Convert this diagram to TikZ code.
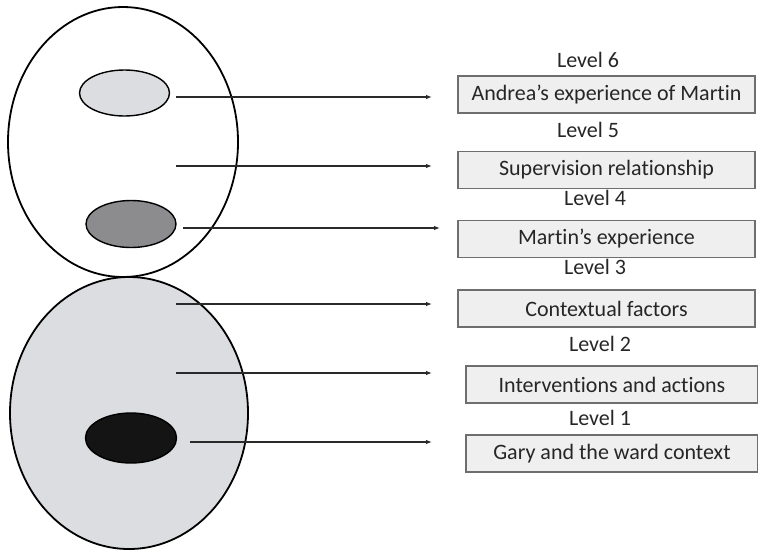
\documentclass[tikz,border=0pt]{standalone}
\usepackage{fontspec}
\setmainfont[Ligatures=CommonOff]{Carlito}
\usetikzlibrary{shapes.geometric,arrows.meta}
\definecolor{boxfill}{HTML}{EFEFEF}
\definecolor{boxline}{HTML}{6E6E6E}
\definecolor{egglight}{HTML}{DCDDE0}
\definecolor{eggdark}{HTML}{8C8C8E}
\definecolor{arrowcol}{HTML}{2A2A2A}
\begin{document}
\begin{tikzpicture}[x=1pt,y=-1pt,
  egg/.style={ellipse,draw=black,line width=1.8pt,inner sep=0pt},
  levelbox/.style={rectangle,draw=boxline,fill=boxfill,line width=1.3pt,minimum height=37pt,inner sep=0pt,font=\fontsize{22}{25}\selectfont,text=black!85},
  levellabel/.style={font=\fontsize{22}{25}\selectfont,text=black!85,inner sep=0pt},
  pointer/.style={draw=arrowcol,line width=1.1pt,-{Latex[length=6pt,width=4.5pt]}}
]
\useasboundingbox (0,0) rectangle (758,555);
% big eggs
\node[egg,fill=white,minimum width=230pt,minimum height=270pt] (top) at (123,142) {};
\node[egg,fill=egglight,minimum width=238pt,minimum height=272pt] (bottom) at (129,413) {};
% inner ellipses
\node[egg,fill=egglight,line width=1.4pt,minimum width=90pt,minimum height=46pt] (andrea) at (124.5,93) {};
\node[egg,fill=eggdark,line width=1.4pt,minimum width=90pt,minimum height=47pt] (martin) at (131,224) {};
\node[egg,fill=black!92,line width=1.4pt,minimum width=91pt,minimum height=50pt] (gary) at (131,438) {};
% boxes
\node[levelbox,minimum width=297pt] (b6) at (606.5,94.5) {Andrea’s experience of Martin};
\node[levelbox,minimum width=297pt] (b5) at (606.5,170) {Supervision relationship};
\node[levelbox,minimum width=297pt] (b4) at (606.5,239) {Martin’s experience};
\node[levelbox,minimum width=297pt] (b3) at (606.5,308.5) {Contextual factors};
\node[levelbox,minimum width=292pt] (b2) at (612,384.5) {Interventions and actions};
\node[levelbox,minimum width=292pt] (b1) at (612,453.5) {Gary and the ward context};
% level labels
\node[levellabel] (l6) at (588,60) {Level 6};
\node[levellabel] (l5) at (588,130) {Level 5};
\node[levellabel] (l4) at (595,198) {Level 4};
\node[levellabel] (l3) at (595,267) {Level 3};
\node[levellabel] (l2) at (600,344) {Level 2};
\node[levellabel] (l1) at (600,418) {Level 1};
% arrow ends
\coordinate (s6) at (176,97);   \coordinate (e6) at (432,97);
\coordinate (s5) at (176,166);  \coordinate (e5) at (432,166);
\coordinate (s4) at (183,228);  \coordinate (e4) at (440,228);
\coordinate (s3) at (176,304);  \coordinate (e3) at (432,304);
\coordinate (s2) at (176,373);  \coordinate (e2) at (432,373);
\coordinate (s1) at (190,442);  \coordinate (e1) at (432,442);
\foreach \i in {1,...,6} {\draw[pointer] (s\i) -- (e\i);}
\end{tikzpicture}
\end{document}
